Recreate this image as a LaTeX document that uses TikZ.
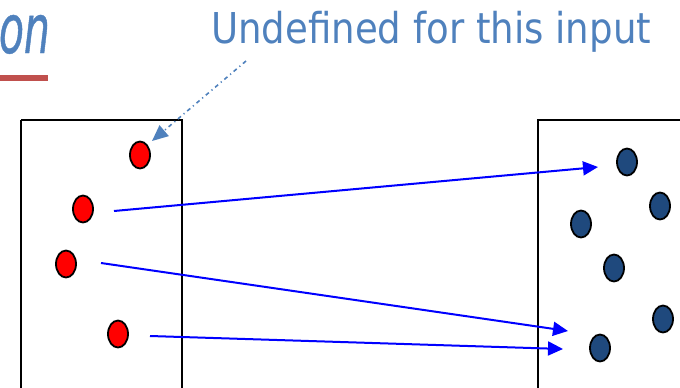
\documentclass[tikz,border=0pt]{standalone}
\usepackage{fontspec}
\usetikzlibrary{arrows.meta,shapes.geometric}
\newfontfamily\labelfont[FakeStretch=0.873]{DejaVu Sans}
\newfontfamily\titlefont[FakeStretch=0.6,FakeBold=0.6]{DejaVu Sans Oblique}
\definecolor{notecol}{RGB}{79,129,189}
\definecolor{barcol}{RGB}{192,80,77}
\definecolor{codcol}{RGB}{31,73,125}
\tikzset{
  domdot/.style={ellipse, draw=black, line width=1.8pt, fill=red, minimum width=20pt, minimum height=27pt, inner sep=0pt},
  coddot/.style={ellipse, draw=black, line width=1.8pt, fill=codcol, minimum width=20pt, minimum height=27pt, inner sep=0pt},
  setbox/.style={draw=black, line width=1.6pt},
  maparrow/.style={draw={rgb,255:red,0;green,0;blue,255}, line width=2pt, -{Triangle[length=15pt,width=14pt]}},
  notearrow/.style={draw=notecol, line width=1.6pt, dash pattern=on 4pt off 3.5pt on 1.2pt off 3.5pt, -{Triangle[length=16pt,width=14pt]}}
}
\begin{document}
\begin{tikzpicture}[x=1pt,y=-1pt]
\useasboundingbox (0,0) rectangle (680,388);
\clip (0,0) rectangle (680,388);
% title fragment and bar
\node[anchor=base east, inner sep=0pt, text=notecol, font=\titlefont\fontsize{68}{68}\selectfont] (title) at (50,53) {on};
\fill[barcol] (0,75) rectangle (48,81);
% label
\node[anchor=base west, inner sep=0pt, text=notecol, font=\labelfont\fontsize{42.5}{42.5}\selectfont] (note) at (211,43) {Undefined for this input};
% boxes
\draw[setbox] (21,120) -- (182,120) -- (182,400) (21,400) -- (21,120);
\draw[setbox] (538,400) -- (538,120) -- (690,120);
% domain dots
\node[domdot] (r1) at (140,155) {};
\node[domdot] (r2) at (83,209) {};
\node[domdot] (r3) at (66,264) {};
\node[domdot] (r4) at (118,334) {};
% codomain dots
\node[coddot] (b1) at (627,162) {};
\node[coddot] (b2) at (660,206) {};
\node[coddot] (b3) at (581,224) {};
\node[coddot] (b4) at (614,268) {};
\node[coddot] (b5) at (663,319) {};
\node[coddot] (b6) at (600,348) {};
% arrow end points
\coordinate (s1) at (114,211);
\coordinate (e1) at (598,167);
\coordinate (s2) at (101,263);
\coordinate (e2) at (568,331);
\coordinate (s3) at (150,336);
\coordinate (e3) at (563,349);
\coordinate (ns) at (246,61);
\coordinate (ne) at (152,141);
\draw[maparrow] (s1) -- (e1);
\draw[maparrow] (s2) -- (e2);
\draw[maparrow] (s3) -- (e3);
\draw[notearrow] (ns) -- (ne);
\end{tikzpicture}
\end{document}
